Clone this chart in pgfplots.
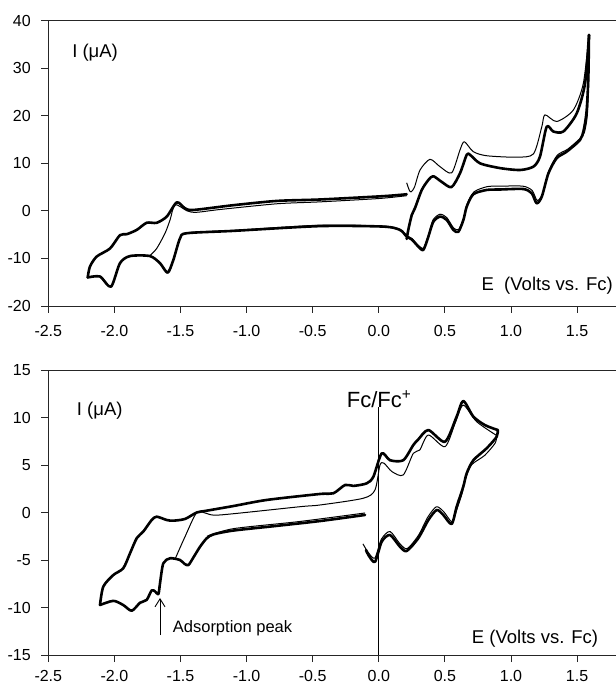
\documentclass[border=0pt]{standalone}
\usepackage{fontspec}
\setmainfont{Liberation Sans}
\usepackage{pgfplots}
\pgfplotsset{compat=1.18}
\usetikzlibrary{arrows.meta}
\pgfplotsset{
  cvaxis/.style={
    scale only axis,
    width=571.1pt,
    xmin=-2.5, xmax=1.82,
    tick align=outside,
    tick pos=left,
    major tick length=7pt,
    axis line style={line width=0.9pt, black!85},
    every tick/.style={line width=0.9pt, black!85},
    xtick={-2.5,-2.0,-1.5,-1.0,-0.5,0.0,0.5,1.0,1.5},
    xticklabels={-2.5,-2.0,-1.5,-1.0,-0.5,0.0,0.5,1.0,1.5},
    tick label style={font=\fontsize{16}{18}\selectfont},
    xticklabel shift=9pt,
    yticklabel shift=7pt,
  },
  thick cv/.style={black, line width=2.6pt, line join=round, line cap=round, smooth, tension=0.45},
  thin cv/.style={black, line width=1.0pt, line join=round, smooth, tension=0.45},
}
\begin{document}
\begin{tikzpicture}[x=1pt,y=1pt]
\useasboundingbox (0,0) rectangle (616,686);
% ---------------- top panel ----------------
\begin{axis}[cvaxis, at={(48.3pt,380pt)}, anchor=south west,
  height=285.3pt, ymin=-20, ymax=40,
  ytick={-20,-10,0,10,20,30,40},
  yticklabels={-20,-10,0,10,20,30,40}]
% thick forward
\addplot[thick cv] coordinates {(0.211,-5.9)(0.223,-4.0)(0.249,-0.9)(0.274,0.6)(0.325,4.4)(0.375,6.5)(0.412,7.3)(0.476,6.1)(0.55,5.0)(0.614,7.9)(0.665,11.8)(0.69,11.8)(0.766,10.0)(0.917,9.0)(1.068,8.6)(1.169,9.3)(1.219,11.4)(1.27,17.7)(1.32,16.7)(1.396,16.7)(1.497,20.5)(1.56,26.8)(1.59,37.0)};
% thick reverse
\addplot[thick cv] coordinates {(1.59,37)(1.585,28)(1.572,21)(1.55,17)(1.522,14.9)(1.421,12.45)(1.346,11.1)(1.283,7.9)(1.233,3.0)(1.194,1.6)(1.157,3.7)(1.093,4.6)(0.917,4.5)(0.816,4.4)(0.715,3.5)(0.665,0.9)(0.64,-1.9)(0.602,-4.4)(0.564,-4.0)(0.514,-1.9)(0.463,-1.2)(0.412,-2.3)(0.375,-5.4)(0.337,-8.2)(0.299,-7.5)(0.249,-6.0)(0.211,-5.4)(0.16,-4.0)(0.034,-3.3)(-0.445,-3.2)(-1.1,-4.2)(-1.453,-4.7)(-1.504,-5.8)(-1.554,-10.3)(-1.597,-13.0)(-1.655,-11.0)(-1.731,-9.5)(-1.882,-9.5)(-1.958,-11.0)(-2.026,-15.95)(-2.109,-13.8)(-2.202,-14.0)};
% thick return
\addplot[thick cv] coordinates {(-2.202,-14.0)(-2.185,-11.7)(-2.134,-9.6)(-2.033,-7.9)(-1.958,-5.1)(-1.907,-4.9)(-1.831,-4.0)(-1.756,-2.5)(-1.68,-2.5)(-1.604,-1.2)(-1.528,1.8)(-1.466,0.55)(-1.401,0.2)(-1.1,1.2)(-0.77,2.1)(-0.445,2.4)(0.034,3.1)(0.211,3.5)};
% thin first scan
\addplot[thin cv] coordinates {(0.211,5.9)(0.23,4.4)(0.244,4.0)(0.27,5.0)(0.312,8.6)(0.387,10.85)(0.463,9.3)(0.551,8.0)(0.614,12.8)(0.647,14.55)(0.715,12.45)(0.816,11.6)(1.043,11.3)(1.17,12.0)(1.233,17.7)(1.257,20.2)(1.346,18.8)(1.471,21.2)(1.547,26.8)(1.59,37)};
\addplot[thin cv] coordinates {(1.59,37)(1.587,27)(1.577,20)(1.555,16.5)(1.525,15.3)(1.43,13.0)(1.35,11.7)(1.288,8.5)(1.24,3.6)(1.198,2.2)(1.16,4.3)(1.09,5.2)(0.92,5.2)(0.82,5.1)(0.72,4.0)(0.668,1.4)(0.642,-1.5)(0.605,-3.9)(0.566,-3.6)(0.514,-1.4)(0.463,-0.7)(0.41,-1.9)(0.377,-5.0)(0.34,-7.8)(0.30,-7.3)(0.25,-5.8)(0.211,-5.2)(0.16,-3.9)(0.034,-3.2)(-0.445,-3.0)(-1.1,-4.1)(-1.45,-4.6)(-1.504,-5.7)(-1.554,-10.2)(-1.597,-12.8)(-1.655,-10.9)(-1.731,-9.4)};
\addplot[thin cv] coordinates {(-1.731,-9.4)(-1.68,-7.9)(-1.617,-4.7)(-1.579,-1.9)(-1.541,1.3)(-1.45,0.0)(-1.38,-0.3)(-1.2,0.3)(-0.77,1.5)(-0.445,1.9)(0.0,2.6)(0.211,3.2)};
\node[anchor=base west, font=\fontsize{18.5}{20}\selectfont, inner sep=0pt] at (axis cs:-2.32,32.3) {I (μA)};
\node[anchor=base east, font=\fontsize{18.5}{20}\selectfont, inner sep=0pt] at (axis cs:1.772,-16.8) {E\ \ (Volts vs. Fc)};
\end{axis}
% ---------------- bottom panel ----------------
\begin{axis}[cvaxis, at={(48.3pt,31pt)}, anchor=south west,
  height=285pt, ymin=-15, ymax=15,
  xticklabel shift=5pt,
  ytick={-15,-10,-5,0,5,10,15},
  yticklabels={-15,-10,-5,0,5,10,15}]
\addplot[thick cv] coordinates {(-0.104,-0.26)(-0.445,-0.9)(-0.8,-1.45)(-1.1,-1.9)(-1.25,-2.3)(-1.302,-2.72)(-1.352,-3.6)(-1.401,-4.7)(-1.44,-5.53)(-1.47,-5.4)(-1.504,-5.0)(-1.579,-4.82)(-1.63,-5.35)(-1.655,-7.45)(-1.667,-8.58)(-1.693,-8.3)(-1.718,-8.2)(-1.756,-9.2)(-1.806,-9.5)(-1.869,-10.34)(-1.933,-9.74)(-2.008,-9.3)(-2.109,-9.74)};
\addplot[thick cv] coordinates {(-2.109,-9.74)(-2.084,-7.8)(-2.008,-6.58)(-1.933,-5.87)(-1.882,-4.3)(-1.831,-2.7)(-1.781,-2.0)(-1.718,-0.79)(-1.68,-0.44)(-1.604,-0.79)(-1.554,-0.86)(-1.466,-0.68)(-1.377,0.0)(-1.302,0.19)(-1.1,0.68)(-0.848,1.32)(-0.445,1.95)(-0.344,2.02)(-0.255,2.9)(-0.192,2.8)(-0.091,3.07)(-0.041,3.77)(0.022,6.23)(0.085,5.5)(0.185,5.5)(0.261,7.1)(0.299,7.7)(0.375,8.68)(0.501,7.45)(0.589,10.1)(0.639,11.74)(0.715,10.1)(0.803,9.2)(0.9,8.68)};
\addplot[thick cv] coordinates {(0.9,8.68)(0.892,7.98)(0.816,6.76)(0.715,5.5)(0.665,4.13)(0.639,2.72)(0.589,0.61)(0.551,-1.21)(0.488,-0.26)(0.438,0.26)(0.375,-0.79)(0.299,-2.7)(0.211,-4.05)(0.16,-3.6)(0.085,-2.37)(0.022,-3.07)(-0.029,-5.2)(-0.079,-4.47)(-0.097,-3.95)};
\addplot[thin cv] coordinates {(-1.541,-4.9)(-1.466,-2.55)(-1.377,0.0)(-1.302,-0.1)(-1.201,-0.26)(-0.596,0.61)(-0.445,0.79)(-0.117,1.5)(-0.029,2.37)(0.009,5.0)(0.04,5.18)(0.1,4.3)(0.185,3.95)(0.261,6.23)(0.31,6.58)(0.375,8.16)(0.501,6.93)(0.58,9.5)(0.639,11.3)(0.74,9.56)(0.892,8.1)};
\addplot[thin cv] coordinates {(0.892,8.1)(0.88,7.3)(0.80,6.0)(0.70,5.0)(0.655,3.5)(0.63,2.0)(0.59,0.3)(0.555,-1.0)(0.49,0.1)(0.435,0.6)(0.37,-0.5)(0.30,-2.4)(0.215,-3.8)(0.16,-3.3)(0.085,-2.0)(0.02,-2.8)(-0.03,-4.8)(-0.08,-4.2)(-0.12,-3.3)};
\addplot[thin cv] coordinates {(-0.104,-0.05)(-0.6,-0.95)(-1.1,-1.7)(-1.3,-2.5)};
\draw[line width=0.8pt] (axis cs:0,-15) -- (axis cs:0,11.1);
\node[anchor=base west, font=\fontsize{22}{24}\selectfont, inner sep=0pt] at (axis cs:-0.243,11.07) {Fc/Fc\textsuperscript{+}};
\node[anchor=base west, font=\fontsize{18.5}{20}\selectfont, inner sep=0pt] at (axis cs:-2.285,10.26) {I (μA)};
\node[anchor=base east, font=\fontsize{18.5}{20}\selectfont, inner sep=0pt] at (axis cs:1.66,-13.84) {E (Volts vs. Fc)};
\node[anchor=base west, font=\fontsize{16.5}{18}\selectfont, inner sep=0pt] at (axis cs:-1.559,-12.65) {Adsorption peak};
\draw[-{Straight Barb[length=8pt,width=10pt]}, line width=0.9pt] (axis cs:-1.655,-12.9) -- (axis cs:-1.655,-9.0);
\end{axis}
\end{tikzpicture}
\end{document}
